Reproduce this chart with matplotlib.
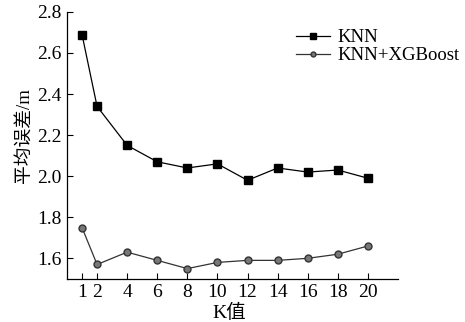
import matplotlib
matplotlib.use('Agg')
import matplotlib.pyplot as plt

# values
k_vals = [1, 2, 4, 6, 8, 10, 12, 14, 16, 18, 20]
knn_err = [2.69, 2.34, 2.15, 2.07, 2.04, 2.06, 1.98, 2.04, 2.02, 2.03, 1.99]
knn_xgb_err = [1.75, 1.57, 1.63, 1.59, 1.55, 1.58, 1.59, 1.59, 1.60, 1.62, 1.66]
y_ticks = [1.6, 1.8, 2.0, 2.2, 2.4, 2.6, 2.8]

plt.rcParams['font.family'] = ['Liberation Serif', 'Noto Sans CJK SC']
plt.rcParams['font.size'] = 14

fig = plt.figure(figsize=(4.65, 3.22), dpi=100)
ax = fig.add_axes([0.144, 0.134, 0.712, 0.829])

ax.plot(k_vals, knn_err, color='black', lw=0.9, marker='s', markersize=5.5,
        markerfacecolor='black', markeredgecolor='black', label='KNN')
ax.plot(k_vals, knn_xgb_err, color='#333333', lw=0.9, marker='o', markersize=5,
        markerfacecolor='#777777', markeredgecolor='#333333', label='KNN+XGBoost')

ax.set_xlim(0, 22)
ax.set_ylim(1.5, 2.8)
ax.set_xticks(k_vals)
ax.set_yticks(y_ticks)
ax.set_yticklabels(['%.1f' % v for v in y_ticks])
ax.tick_params(direction='in', length=4, width=0.8, pad=4)

for s in ['top', 'right']:
    ax.spines[s].set_visible(False)
for s in ['left', 'bottom']:
    ax.spines[s].set_linewidth(0.9)

ax.set_xlabel('K值', fontsize=14)
ax.xaxis.set_label_coords(0.49, -0.095)
ax.set_ylabel('平均误差/m', fontsize=13.5)
ax.yaxis.set_label_coords(-0.103, 0.535)

ax.legend(loc='upper left', bbox_to_anchor=(0.67, 0.963), frameon=False,
          handlelength=1.8, handletextpad=0.4, labelspacing=0.05, borderaxespad=0,
          markerscale=0.7, fontsize=13.5)

fig.savefig('out.png', dpi=100)
